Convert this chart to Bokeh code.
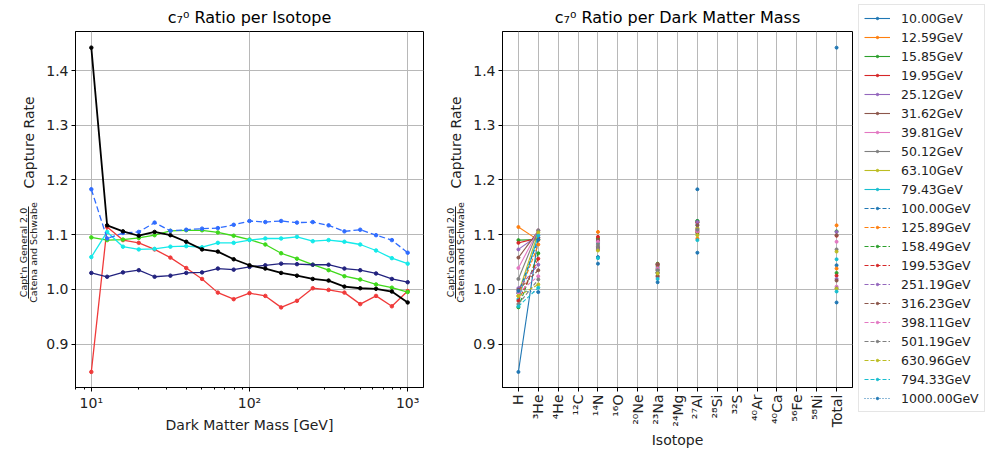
import math
from bokeh.plotting import figure
from bokeh.layouts import row
from bokeh.models import (Range1d, FixedTicker, SingleIntervalTicker, Label, BoxAnnotation,
                          Legend, LegendItem, PrintfTickFormatter)
from bokeh.embed import file_html
from bokeh.resources import INLINE

# ---------------- data ----------------
masses = [10.00, 12.59, 15.85, 19.95, 25.12, 31.62, 39.81, 50.12, 63.10, 79.43,
          100.00, 125.89, 158.49, 199.53, 251.19, 316.23, 398.11, 501.19, 630.96, 794.33, 1000.00]

isotope_labels = ["H", "³He", "⁴He", "¹²C", "¹⁴N", "¹⁶O", "²⁰Ne", "²³Na", "²⁴Mg", "²⁷Al",
                  "²⁸Si", "³²S", "⁴⁰Ar", "⁴⁰Ca", "⁵⁶Fe", "⁵⁸Ni", "Total"]

ratio_H = [0.849, 1.114, 1.090, 1.085, 1.073, 1.058, 1.039, 1.019, 0.994, 0.982,
           0.993, 0.988, 0.967, 0.979, 1.002, 0.999, 0.994, 0.973, 0.988, 0.969, 0.997]
ratio_He3 = [1.095, 1.090, 1.091, 1.094, 1.099, 1.107, 1.108, 1.108, 1.104, 1.098,
             1.091, 1.082, 1.066, 1.056, 1.045, 1.035, 1.024, 1.018, 1.009, 1.003, 0.995]
ratio_N14 = [1.059, 1.105, 1.078, 1.073, 1.074, 1.078, 1.079, 1.077, 1.085, 1.085,
             1.090, 1.093, 1.093, 1.096, 1.088, 1.090, 1.087, 1.082, 1.071, 1.057, 1.047]
ratio_Na23 = [1.030, 1.023, 1.031, 1.035, 1.023, 1.025, 1.030, 1.031, 1.038, 1.036,
              1.041, 1.044, 1.047, 1.046, 1.045, 1.045, 1.038, 1.035, 1.029, 1.019, 1.013]
ratio_Al27 = [1.183, 1.093, 1.103, 1.105, 1.122, 1.107, 1.109, 1.111, 1.112, 1.118,
              1.125, 1.123, 1.125, 1.122, 1.123, 1.117, 1.106, 1.109, 1.099, 1.090, 1.067]
ratio_total = [1.442, 1.117, 1.106, 1.098, 1.105, 1.099, 1.087, 1.073, 1.069, 1.055,
               1.044, 1.038, 1.030, 1.025, 1.019, 1.016, 1.005, 1.002, 1.001, 0.996, 0.976]

# isotope series shown as lines in the left panel
iso_series = [
    ("H", ratio_H, "#f03a3a", "solid", 1.3),
    ("³He", ratio_He3, "#3fd91a", "solid", 1.3),
    ("¹⁴N", ratio_N14, "#14eaea", "solid", 1.3),
    ("²³Na", ratio_Na23, "#23237f", "solid", 1.3),
    ("²⁷Al", ratio_Al27, "#2f6cff", "6 3", 1.3),
    ("Total", ratio_total, "#000000", "solid", 1.8),
]

tab10 = ["#1f77b4", "#ff7f0e", "#2ca02c", "#d62728", "#9467bd",
         "#8c564b", "#e377c2", "#7f7f7f", "#bcbd22", "#17becf"]

FONT = "DejaVu Sans"
TXT = "#222222"
Y0, Y1 = 0.8205, 1.4715
H = 451
NAN = float("nan")


def style(p):
    p.outline_line_color = "black"
    p.outline_line_width = 1
    p.outline_line_alpha = 1
    p.background_fill_color = "white"
    p.border_fill_color = "white"
    p.title.align = "center"
    p.title.text_font = FONT
    p.title.text_font_size = "16px"
    p.title.text_font_style = "normal"
    p.title.text_color = "black"
    for ax in p.axis:
        ax.major_label_text_font = FONT
        ax.major_label_text_font_size = "14px"
        ax.major_label_text_color = TXT
        ax.axis_label_text_font = FONT
        ax.axis_label_text_font_size = "14px"
        ax.axis_label_text_font_style = "normal"
        ax.axis_label_text_color = TXT
        ax.axis_line_color = "black"
        ax.major_tick_line_color = "black"
        ax.minor_tick_line_color = "black"
        ax.major_tick_out = 4
        ax.major_tick_in = 0
        ax.minor_tick_out = 2
        ax.minor_tick_in = 0
        ax.major_label_standoff = 3
        ax.axis_label_standoff = 3
    for g in p.grid:
        g.grid_line_color = "#b8b8b8"
        g.grid_line_width = 1


def blank_fig(width):
    f = figure(width=width, height=H, x_range=Range1d(0, 1), y_range=Range1d(0, 1),
               min_border=0, min_border_left=0, min_border_right=0,
               min_border_top=0, min_border_bottom=0,
               x_axis_location=None, y_axis_location=None,
               toolbar_location=None, output_backend="svg")
    f.title.visible = False
    f.grid.visible = False
    f.outline_line_color = None
    f.background_fill_color = "white"
    f.border_fill_color = "white"
    if "frame_align" in f.properties():
        f.frame_align = False
        bottom = H
    else:
        bottom = 390
    return f, bottom


def ylabel_fig(width, cx):
    f, bottom = blank_fig(width)
    f.add_layout(Label(x=cx, y=bottom - 142, x_units="screen", y_units="screen", text="Capture Rate",
                       angle=math.pi / 2, text_align="center", text_baseline="middle",
                       text_font=FONT, text_font_size="14px", text_color=TXT))
    f.add_layout(Label(x=cx - 5, y=bottom - 252, x_units="screen", y_units="screen",
                       text="Capt'n General 2.0",
                       angle=math.pi / 2, text_align="center", text_baseline="middle",
                       text_font=FONT, text_font_size="9.5px", text_color=TXT))
    f.add_layout(Label(x=cx + 5, y=bottom - 252, x_units="screen", y_units="screen",
                       text="Catena and Schwabe",
                       angle=math.pi / 2, text_align="center", text_baseline="middle",
                       text_font=FONT, text_font_size="9.5px", text_color=TXT))
    f.add_layout(BoxAnnotation(left=cx - 0.5, right=cx + 0.5, bottom=bottom - 298, top=bottom - 206,
                               left_units="screen", right_units="screen",
                               bottom_units="screen", top_units="screen",
                               fill_color=TXT, fill_alpha=1, line_color=None, line_alpha=0))
    return f


# ---------------- left panel ----------------
lab1 = ylabel_fig(43, 28)

p1 = figure(width=400, height=H, x_axis_type="log",
            x_range=Range1d(10 ** 0.9, 10 ** 3.1), y_range=Range1d(Y0, Y1),
            min_border_left=32, min_border_right=20, min_border_top=30, min_border_bottom=61,
            toolbar_location=None, output_backend="svg",
            title="c₇⁰ Ratio per Isotope")

for name, vals, col, dash, lw in iso_series:
    p1.line(masses, vals, line_color=col, line_width=lw, line_dash=dash)
    p1.scatter(masses, vals, size=3.5, fill_color=col, line_color=col)

p1.xaxis.ticker = FixedTicker(ticks=[10, 100, 1000],
                              minor_ticks=[d * 10 ** e for e in range(0, 4) for d in range(2, 10)])
p1.xaxis.major_label_overrides = {10: "10¹", 100: "10²", 1000: "10³"}
p1.xaxis.axis_label = "Dark Matter Mass [GeV]"
p1.yaxis.ticker = SingleIntervalTicker(interval=0.1, num_minor_ticks=0)
p1.yaxis.formatter = PrintfTickFormatter(format="%.1f")
style(p1)
p1.yaxis.minor_tick_line_color = None

# ---------------- right panel ----------------
lab2 = ylabel_fig(27, 12)

p2 = figure(width=388, height=H,
            x_range=Range1d(-0.8, 16.8), y_range=Range1d(Y0, Y1),
            min_border_left=32, min_border_right=6, min_border_top=30, min_border_bottom=61,
            toolbar_location=None, output_backend="svg",
            title="c₇⁰ Ratio per Dark Matter Mass")

leg_fig, leg_bottom = blank_fig(127)

iso_index = {name: isotope_labels.index(name) for name, *_ in iso_series}
xs = list(range(len(isotope_labels)))
items = []
for i, m in enumerate(masses):
    vals = [NAN] * len(isotope_labels)
    for name, series, *_ in iso_series:
        vals[iso_index[name]] = series[i]
    col = tab10[i % 10]
    dash = "solid" if i < 10 else ("4 2" if i < 20 else "1 2")
    p2.line(xs, vals, line_color=col, line_width=1.1, line_dash=dash)
    p2.scatter(xs, vals, size=3, fill_color=col, line_color=col)
    # legend proxies (placeholder only, nothing drawn) in the legend panel
    r_line = leg_fig.line([NAN, NAN], [NAN, NAN], line_color=col, line_width=1.1, line_dash=dash)
    r_pts = leg_fig.scatter([NAN], [NAN], size=3, fill_color=col, line_color=col)
    items.append(LegendItem(label=f"{m:.2f}GeV", renderers=[r_line, r_pts]))

p2.xaxis.ticker = FixedTicker(ticks=xs)
p2.xaxis.major_label_overrides = {i: lab for i, lab in enumerate(isotope_labels)}
p2.xaxis.major_label_orientation = math.pi / 2
p2.xaxis.axis_label = "Isotope"
p2.yaxis.ticker = SingleIntervalTicker(interval=0.1, num_minor_ticks=0)
p2.yaxis.formatter = PrintfTickFormatter(format="%.1f")
style(p2)
p2.xaxis.minor_tick_line_color = None
p2.yaxis.minor_tick_line_color = None
p2.xaxis.axis_label_standoff = 2

legend = Legend(items=items, location=(0, leg_bottom - 412))
legend.label_text_font = FONT
legend.label_text_font_size = "12.5px"
legend.label_text_color = TXT
legend.glyph_width = 26
legend.glyph_height = 6
legend.label_height = 16
legend.spacing = 3
legend.padding = 5
legend.margin = 0
legend.label_standoff = 11
legend.border_line_color = "#cccccc"
legend.border_line_width = 1
legend.background_fill_color = "white"
legend.background_fill_alpha = 1
leg_fig.add_layout(legend)

layout = row(lab1, p1, lab2, p2, leg_fig)
open("out.html", "w").write(file_html(layout, INLINE))
